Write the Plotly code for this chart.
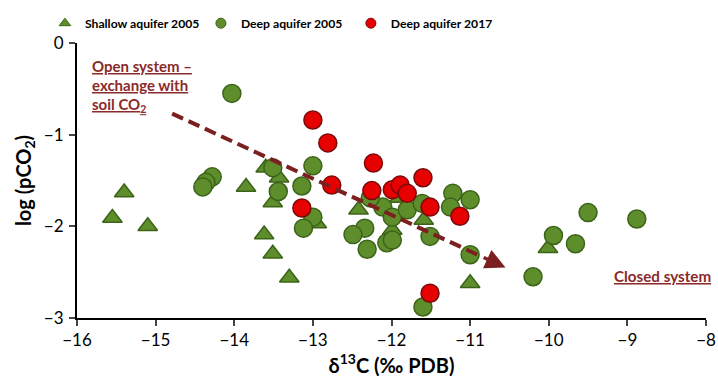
import plotly.graph_objects as go

# ---- data ----
shallow_x = [-15.55, -15.40, -15.10, -13.85, -13.60, -13.43, -13.51, -13.62, -13.51, -13.30,
             -12.95, -12.42, -11.90, -11.59, -11.99, -11.00, -10.01]
shallow_y = [-1.91, -1.63, -2.00, -1.57, -1.36, -1.47, -1.74, -2.09, -2.30, -2.56,
             -1.97, -1.82, -1.69, -1.93, -2.04, -2.62, -2.24]

deep05_x = [-14.03, -14.28, -14.36, -14.40, -13.51, -13.44, -13.14, -13.00, -13.00, -13.12,
            -12.11, -11.99, -11.80, -11.61, -12.34, -12.49, -12.31, -12.06, -11.99, -11.51,
            -11.22, -11.00, -11.25, -11.00, -12.27, -11.60, -9.50, -8.88, -9.94, -9.66, -10.20]
deep05_y = [-0.55, -1.46, -1.52, -1.57, -1.36, -1.62, -1.56, -1.34, -1.90, -2.02,
            -1.79, -1.90, -1.82, -1.75, -2.02, -2.09, -2.25, -2.18, -2.15, -2.11,
            -1.64, -1.71, -1.79, -2.31, -1.69, -2.88, -1.85, -1.92, -2.10, -2.19, -2.55]

deep17_x = [-13.00, -12.81, -12.76, -13.14, -12.23, -12.25, -11.99, -11.89, -11.80, -11.60,
            -11.51, -11.13, -11.51]
deep17_y = [-0.84, -1.09, -1.55, -1.80, -1.31, -1.61, -1.60, -1.55, -1.64, -1.47,
            -1.79, -1.89, -2.73]

arrow_x = [-14.79, -10.55]
arrow_y = [-0.77, -2.45]

x_ticks = [-16, -15, -14, -13, -12, -11, -10, -9, -8]
y_ticks = [0, -1, -2, -3]

series_names = ["Shallow aquifer 2005", "Deep aquifer 2005", "Deep aquifer 2017"]

open_lines = ["Open system –", "exchange with", "soil CO<sub>2</sub>"]
open_line_y = [-0.25, -0.46, -0.675]

GREEN = "#5e8e2c"
GREEN_EDGE = "#3c6418"
RED = "#e60000"
RED_EDGE = "#7a0a0a"
ARROW = "#7b1f1f"
TEXTRED = "#8b2a2a"
FONT = "Lato"

fig = go.Figure()

fig.add_trace(go.Scatter(x=shallow_x, y=shallow_y, mode="markers", showlegend=False,
                         marker=dict(symbol="triangle-up", size=17, color=GREEN,
                                     line=dict(color=GREEN_EDGE, width=1.5))))
fig.add_trace(go.Scatter(x=deep05_x, y=deep05_y, mode="markers", showlegend=False,
                         marker=dict(symbol="circle", size=18, color=GREEN,
                                     line=dict(color=GREEN_EDGE, width=1.5))))
fig.add_trace(go.Scatter(x=deep17_x, y=deep17_y, mode="markers", showlegend=False,
                         marker=dict(symbol="circle", size=18, color=RED,
                                     line=dict(color=RED_EDGE, width=1.5))))

# legend entries (smaller symbols, as in the reference), one legend box per entry
legend_specs = [
    ("legend", "triangle-up", GREEN, GREEN_EDGE),
    ("legend2", "circle", GREEN, GREEN_EDGE),
    ("legend3", "circle", RED, RED_EDGE),
]
for name, (lg, sym, col, edge) in zip(series_names, legend_specs):
    fig.add_trace(go.Scatter(x=[None], y=[None], mode="markers", name=name, legend=lg,
                             marker=dict(symbol=sym, size=10, color=col,
                                         line=dict(color=edge, width=1))))

# dashed trend arrow (shaft stops a little before the head)
frac = 0.93
shaft_end_x = arrow_x[0] + frac * (arrow_x[1] - arrow_x[0])
shaft_end_y = arrow_y[0] + frac * (arrow_y[1] - arrow_y[0])
fig.add_trace(go.Scatter(x=[arrow_x[0], shaft_end_x], y=[arrow_y[0], shaft_end_y],
                         mode="lines", showlegend=False, hoverinfo="skip",
                         line=dict(color=ARROW, width=4, dash="12px,6px")))
fig.add_annotation(x=arrow_x[1], y=arrow_y[1], ax=shaft_end_x, ay=shaft_end_y,
                   xref="x", yref="y", axref="x", ayref="y", text="",
                   showarrow=True, arrowhead=2, arrowsize=1.15, arrowwidth=3.5,
                   arrowcolor=ARROW)

for line, ly in zip(open_lines, open_line_y):
    fig.add_annotation(x=-15.835, y=ly, xref="x", yref="y", xanchor="left", yanchor="middle",
                       align="left", showarrow=False, text="<b><u>" + line + "</u></b>",
                       font=dict(family=FONT, size=15, color=TEXTRED))
fig.add_annotation(x=-9.2, y=-2.54, xref="x", yref="y", xanchor="left", yanchor="middle",
                   showarrow=False, text="<b><u>Closed system</u></b>",
                   font=dict(family=FONT, size=15.2, color=TEXTRED))

legend_common = dict(orientation="h", xanchor="left", y=1.072, yanchor="middle",
                     font=dict(family=FONT, size=12.2, color="black", weight="bold"),
                     itemwidth=30, bgcolor="rgba(0,0,0,0)")

fig.update_layout(
    width=718, height=379,
    margin=dict(l=77, r=12, t=43, b=61, autoexpand=False),
    plot_bgcolor="white", paper_bgcolor="white",
    font=dict(family=FONT, color="black"),
    legend=dict(x=-0.051, **legend_common),
    legend2=dict(x=0.197, **legend_common),
    legend3=dict(x=0.4354, **legend_common),
    xaxis=dict(range=[-16, -8], tickvals=x_ticks, ticks="outside", ticklen=6, tickwidth=1.5,
               showline=True, linecolor="black", linewidth=2, showgrid=False,
               zeroline=False, tickfont=dict(size=17), ticklabelstandoff=0, automargin=False,
               title=dict(text="<b>δ<sup>13</sup>C (‰ PDB)</b>", font=dict(size=20), standoff=6)),
    yaxis=dict(range=[-3, 0], tickvals=y_ticks, ticks="outside", ticklen=6, tickwidth=1.5,
               showline=True, linecolor="black", linewidth=2, showgrid=False,
               zeroline=False, tickfont=dict(size=17), ticklabelstandoff=2, automargin=False,
               title=dict(text="<b>log (pCO<sub>2</sub>)</b>", font=dict(size=20), standoff=7)),
)

fig.write_html("out.html")
